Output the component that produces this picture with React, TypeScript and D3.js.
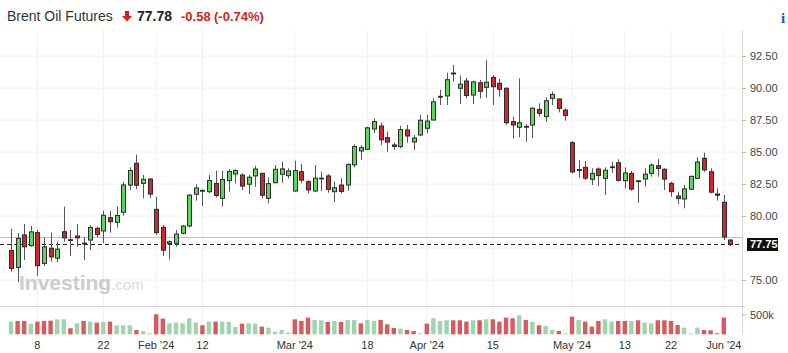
import React, { useEffect, useRef } from 'react';
import * as d3 from 'd3';

// trading days, Jan 2 -> Jun 4 2024
const dates = [
  '2024-01-02', '2024-01-03', '2024-01-04', '2024-01-05',
  '2024-01-08', '2024-01-09', '2024-01-10', '2024-01-11', '2024-01-12',
  '2024-01-15', '2024-01-16', '2024-01-17', '2024-01-18', '2024-01-19',
  '2024-01-22', '2024-01-23', '2024-01-24', '2024-01-25', '2024-01-26',
  '2024-01-29', '2024-01-30', '2024-01-31', '2024-02-01', '2024-02-02',
  '2024-02-05', '2024-02-06', '2024-02-07', '2024-02-08', '2024-02-09',
  '2024-02-12', '2024-02-13', '2024-02-14', '2024-02-15', '2024-02-16',
  '2024-02-19', '2024-02-20', '2024-02-21', '2024-02-22', '2024-02-23',
  '2024-02-26', '2024-02-27', '2024-02-28', '2024-02-29', '2024-03-01',
  '2024-03-04', '2024-03-05', '2024-03-06', '2024-03-07', '2024-03-08',
  '2024-03-11', '2024-03-12', '2024-03-13', '2024-03-14', '2024-03-15',
  '2024-03-18', '2024-03-19', '2024-03-20', '2024-03-21', '2024-03-22',
  '2024-03-25', '2024-03-26', '2024-03-27', '2024-03-28',
  '2024-04-01', '2024-04-02', '2024-04-03', '2024-04-04', '2024-04-05',
  '2024-04-08', '2024-04-09', '2024-04-10', '2024-04-11', '2024-04-12',
  '2024-04-15', '2024-04-16', '2024-04-17', '2024-04-18', '2024-04-19',
  '2024-04-22', '2024-04-23', '2024-04-24', '2024-04-25', '2024-04-26',
  '2024-04-29', '2024-04-30', '2024-05-01', '2024-05-02', '2024-05-03',
  '2024-05-06', '2024-05-07', '2024-05-08', '2024-05-09', '2024-05-10',
  '2024-05-13', '2024-05-14', '2024-05-15', '2024-05-16', '2024-05-17',
  '2024-05-20', '2024-05-21', '2024-05-22', '2024-05-23', '2024-05-24',
  '2024-05-27', '2024-05-28', '2024-05-29', '2024-05-30', '2024-05-31',
  '2024-06-03', '2024-06-04',
];

const open = [
  77.30, 75.99, 78.52, 77.68, 78.70, 76.30, 77.48, 76.70, 78.77, 78.12,
  78.44, 77.82, 78.12, 79.04, 78.83, 79.87, 79.51, 80.29, 82.42, 84.12,
  82.55, 82.89, 80.52, 79.12, 77.85, 77.87, 78.65, 79.22, 81.70, 81.95,
  81.90, 82.55, 81.38, 82.76, 83.28, 83.20, 82.48, 83.13, 83.33, 81.38,
  82.60, 83.26, 83.15, 81.95, 83.46, 82.68, 81.95, 82.90, 83.13, 81.90,
  82.42, 82.42, 84.00, 85.08, 85.21, 86.80, 87.03, 86.12, 85.55, 85.42,
  86.72, 85.78, 86.33, 86.85, 87.50, 89.30, 89.38, 91.10, 89.98, 90.55,
  89.45, 90.41, 90.05, 90.83, 90.37, 89.98, 87.37, 86.93, 87.00, 87.11,
  88.33, 87.76, 89.19, 89.14, 88.28, 85.73, 83.60, 83.80, 82.87, 83.67,
  82.94, 83.80, 84.16, 82.76, 83.33, 82.70, 82.89, 83.33, 83.93, 83.65,
  82.55, 81.56, 81.33, 82.09, 82.94, 84.51, 83.46, 81.72, 81.07, 78.12,
];
const high = [
  79.00, 78.65, 79.38, 79.22, 78.91, 78.34, 78.70, 78.00, 80.73, 78.90,
  79.38, 78.38, 79.30, 79.17, 80.42, 80.39, 80.73, 82.68, 83.80, 84.80,
  83.20, 82.95, 81.51, 79.30, 78.10, 78.90, 79.30, 81.70, 82.48, 82.09,
  83.20, 83.52, 83.54, 83.65, 83.65, 83.33, 83.20, 83.93, 83.38, 83.02,
  83.98, 84.24, 83.73, 84.32, 84.06, 82.81, 83.98, 83.46, 83.28, 82.68,
  82.94, 84.12, 85.60, 85.55, 86.98, 87.63, 87.29, 86.59, 85.73, 87.03,
  87.11, 86.33, 87.89, 87.89, 89.19, 89.86, 91.20, 91.80, 90.96, 90.80,
  90.57, 90.63, 92.18, 91.02, 90.70, 90.05, 87.76, 90.75, 87.19, 88.49,
  88.80, 89.27, 89.71, 89.19, 88.41, 85.86, 84.37, 84.30, 83.73, 83.80,
  83.80, 84.24, 84.43, 83.80, 83.52, 82.81, 83.73, 84.12, 84.45, 83.73,
  82.68, 81.90, 82.42, 83.15, 84.58, 84.95, 83.73, 82.16, 81.64, 78.20,
];
const low = [
  75.65, 74.82, 76.56, 77.60, 75.31, 76.09, 76.43, 76.40, 77.99, 76.88,
  77.60, 76.56, 77.34, 78.34, 77.87, 78.70, 79.09, 80.02, 82.03, 82.09,
  81.38, 81.38, 78.52, 76.88, 76.60, 77.60, 78.55, 79.10, 81.20, 80.78,
  81.77, 81.46, 80.73, 81.90, 82.55, 82.03, 81.70, 82.29, 81.38, 80.99,
  82.55, 82.60, 82.94, 81.90, 82.55, 81.77, 81.90, 81.95, 81.82, 81.07,
  81.77, 81.98, 83.80, 84.37, 85.16, 86.46, 85.55, 85.02, 85.16, 85.29,
  85.73, 85.16, 86.25, 86.46, 87.45, 88.67, 88.67, 90.49, 88.75, 89.19,
  88.75, 89.19, 89.24, 88.67, 89.32, 87.11, 86.07, 86.15, 85.80, 86.07,
  87.76, 87.37, 88.67, 88.10, 87.45, 83.34, 82.99, 82.81, 82.42, 82.34,
  81.64, 83.38, 82.68, 82.16, 81.98, 81.04, 82.29, 83.07, 83.07, 82.03,
  81.51, 80.94, 80.60, 82.03, 82.89, 83.46, 81.77, 81.20, 78.12, 77.65,
];
const close = [
  75.89, 78.25, 77.59, 78.76, 76.12, 77.59, 76.80, 77.41, 78.29, 78.15,
  78.29, 77.88, 79.10, 78.56, 80.06, 79.55, 80.04, 82.43, 83.55, 82.40,
  82.87, 81.71, 78.70, 77.33, 77.99, 78.59, 79.21, 81.63, 82.19, 82.00,
  82.77, 81.60, 82.86, 83.47, 83.56, 82.34, 83.03, 83.67, 81.62, 82.53,
  83.65, 83.68, 83.52, 83.55, 82.80, 82.04, 82.96, 82.96, 82.08, 82.21,
  81.92, 84.03, 85.42, 85.34, 86.89, 87.38, 85.95, 85.78, 85.43, 86.75,
  86.25, 86.09, 87.48, 87.42, 88.92, 89.35, 90.65, 91.17, 90.30, 89.42,
  90.48, 89.74, 90.45, 90.10, 89.90, 87.29, 87.11, 87.29, 87.00, 88.42,
  88.02, 89.01, 89.50, 88.40, 87.86, 83.44, 83.62, 82.96, 83.33, 83.16,
  83.58, 83.84, 82.79, 83.36, 82.10, 82.75, 83.27, 83.98, 83.71, 82.88,
  81.90, 81.36, 82.12, 83.10, 84.22, 83.60, 81.86, 81.62, 78.36, 77.78,
];

// volume in thousands of contracts
const volume = [
  328, 346, 346, 276, 328, 346, 354, 389, 389, 156,
  285, 346, 328, 302, 320, 328, 233, 233, 233, 112,
  86, 26, 518, 406, 285, 302, 285, 415, 302, 233,
  328, 328, 328, 320, 190, 276, 285, 276, 199, 173,
  69, 112, 43, 389, 346, 432, 372, 363, 320, 346,
  320, 372, 372, 285, 372, 346, 372, 259, 164, 147,
  112, 86, 26, 276, 415, 346, 363, 363, 363, 328,
  363, 363, 389, 389, 328, 432, 415, 492, 372, 320,
  233, 216, 112, 86, 26, 458, 372, 328, 199, 346,
  389, 328, 346, 346, 346, 363, 302, 285, 363, 363,
  346, 242, 173, 26, 173, 112, 104, 26, 432, 0,
];
// G = green bar, R = red bar
const volumeDir =
  'GRRGRRRGGR' + 'GRGRGRGGGR' + 'GGRRGGGGGR' + 'GRGGGRGGRG' + 'GGGRRRGGRG' +
  'RGGRGGRRRG' + 'RRGRGGGRRR' + 'GRGRRRRGRG' + 'RGGRGRGRRR' + 'GGRRGRGGRR' +
  'RRGGGRRRRR';

// 77.50 sits under the last price badge, so it only gets a grid line
const gridTicks = [75, 77.5, 80, 82.5, 85, 87.5, 90, 92.5];
const labelTicks = [75, 80, 82.5, 85, 87.5, 90, 92.5];
const tickDates = [
  '2024-01-08', '2024-01-22', '2024-02-01', '2024-02-12', '2024-03-01', '2024-03-18',
  '2024-04-01', '2024-04-15', '2024-05-01', '2024-05-13', '2024-05-22', '2024-06-03',
];
const tickLabels = ['8', '22', "Feb '24", '12', "Mar '24", '18', "Apr '24", '15', "May '24", '13', '22', "Jun '24"];

const lastPrice = 77.78;
const lastLabel = '77.75';
const prevClose = 78.36;

const W = 788;
const H = 353;
const right = 742;
const axisFont = '"Liberation Sans", Arial, sans-serif';

const App = () => {
  const svgRef = useRef(null);

  useEffect(() => {
    const svg = d3.select(svgRef.current);
    svg.selectAll('*').remove();

    const x = d3.scaleBand().domain(dates).range([7.7, 733.7]).padding(0);
    const cx = (d) => x(d) + x.bandwidth() / 2;
    const y = d3.scaleLinear().domain([75, 92.5]).range([280, 56]);
    const yVol = d3.scaleLinear().domain([0, 500]).range([334.3, 315]);

    // vertical grid
    svg.append('g')
      .selectAll('line')
      .data(tickDates)
      .join('line')
      .attr('x1', (d) => cx(d)).attr('x2', (d) => cx(d))
      .attr('y1', 30).attr('y2', 334)
      .attr('stroke', '#f0f0f0');

    // horizontal grid
    svg.append('g')
      .selectAll('line')
      .data(gridTicks)
      .join('line')
      .attr('x1', 0).attr('x2', right)
      .attr('y1', (d) => y(d)).attr('y2', (d) => y(d))
      .attr('stroke', '#f0f0f0');

    // watermark
    const wm = svg.append('text')
      .attr('x', 19).attr('y', 290)
      .style('font-family', axisFont);
    wm.append('tspan').text('Investing')
      .attr('font-size', 21).attr('font-weight', 'bold').attr('fill', '#cbcbcb');
    wm.append('tspan').text('.com')
      .attr('font-size', 15).attr('fill', '#d9d9d9');

    // separator and right axis line
    svg.append('line').attr('x1', 0).attr('x2', right + 3).attr('y1', 306.5).attr('y2', 306.5).attr('stroke', '#d6d6d6');
    svg.append('line').attr('x1', right + 0.5).attr('x2', right + 0.5).attr('y1', 30).attr('y2', 334).attr('stroke', '#d6d6d6');

    // previous close and last price lines
    svg.append('line')
      .attr('x1', 0).attr('x2', right)
      .attr('y1', Math.round(y(prevClose)) + 0.5).attr('y2', Math.round(y(prevClose)) + 0.5)
      .attr('stroke', '#f0aca4');
    svg.append('line')
      .attr('x1', 0).attr('x2', right)
      .attr('y1', Math.round(y(lastPrice)) + 0.5).attr('y2', Math.round(y(lastPrice)) + 0.5)
      .attr('stroke', '#222').attr('stroke-dasharray', '4,3');

    // volume bars
    svg.append('g')
      .selectAll('rect')
      .data(dates)
      .join('rect')
      .attr('x', (d) => cx(d) - 2.2)
      .attr('width', 4.4)
      .attr('y', (d, i) => yVol(volume[i]))
      .attr('height', (d, i) => yVol(0) - yVol(volume[i]))
      .attr('fill', (d, i) => (volumeDir[i] === 'G' ? '#9fd5ae' : '#d65a5f'));

    // candles
    const candles = svg.append('g')
      .selectAll('g')
      .data(dates)
      .join('g');
    candles.append('line')
      .attr('x1', (d) => Math.round(cx(d)) + 0.5).attr('x2', (d) => Math.round(cx(d)) + 0.5)
      .attr('y1', (d, i) => y(high[i]))
      .attr('y2', (d, i) => y(low[i]))
      .attr('stroke', '#555');
    candles.append('rect')
      .attr('x', (d) => Math.round(cx(d)) - 1.5)
      .attr('width', 4)
      .attr('y', (d, i) => y(Math.max(open[i], close[i])))
      .attr('height', (d, i) => Math.max(0.8, Math.abs(y(open[i]) - y(close[i]))))
      .attr('fill', (d, i) => (close[i] >= open[i] ? '#5cd65c' : '#d1262b'))
      .attr('stroke', '#2b2b2b')
      .attr('stroke-width', 1);

    // right price axis
    const yAxis = d3.axisRight(y)
      .tickValues(labelTicks)
      .tickFormat(d3.format('.2f'))
      .tickSize(4)
      .tickPadding(4);
    const ya = svg.append('g')
      .attr('transform', `translate(${right}, 0)`)
      .call(yAxis);
    ya.select('.domain').remove();
    ya.selectAll('line').attr('stroke', '#bbb');
    ya.selectAll('text')
      .attr('fill', '#444')
      .style('font-family', axisFont)
      .style('font-size', '11px');

    // volume axis label
    svg.append('line').attr('x1', right).attr('x2', right + 4).attr('y1', yVol(500)).attr('y2', yVol(500)).attr('stroke', '#bbb');
    svg.append('text')
      .attr('x', right + 8).attr('y', yVol(500)).attr('dy', '0.32em')
      .attr('fill', '#444')
      .style('font-family', axisFont).style('font-size', '11px')
      .text('500k');

    // last price badge
    const ly = Math.round(y(lastPrice)) + 0.5;
    svg.append('rect')
      .attr('x', right + 5).attr('y', ly - 6.5)
      .attr('width', 31).attr('height', 13)
      .attr('fill', '#111');
    svg.append('text')
      .attr('x', right + 8).attr('y', ly).attr('dy', '0.35em')
      .attr('fill', '#fff').attr('font-weight', 'bold')
      .style('font-family', axisFont).style('font-size', '11px')
      .text(lastLabel);

    // time axis
    const xAxis = d3.axisBottom(x)
      .tickValues(tickDates)
      .tickFormat((d) => tickLabels[tickDates.indexOf(d)])
      .tickSize(0)
      .tickPadding(7);
    const xa = svg.append('g')
      .attr('transform', 'translate(0, 334)')
      .call(xAxis);
    xa.select('.domain').remove();
    xa.selectAll('text')
      .attr('fill', '#333')
      .style('font-family', axisFont)
      .style('font-size', '11px');

    // header
    svg.append('text')
      .attr('x', 7).attr('y', 21)
      .attr('fill', '#333')
      .style('font-family', axisFont).style('font-size', '14px')
      .text('Brent Oil Futures');
    svg.append('path')
      .attr('d', 'M125,11 h4 v5 h3 l-5,5.5 l-5,-5.5 h3 z')
      .attr('fill', '#d91e18');
    svg.append('text')
      .attr('x', 137).attr('y', 21)
      .attr('fill', '#222').attr('font-weight', 'bold')
      .style('font-family', axisFont).style('font-size', '14px')
      .text(lastPrice.toFixed(2));
    svg.append('text')
      .attr('x', 181).attr('y', 21)
      .attr('fill', '#d91e18').attr('font-weight', 'bold')
      .style('font-family', axisFont).style('font-size', '13px')
      .text('-0.58');
    svg.append('text')
      .attr('x', 214).attr('y', 21)
      .attr('fill', '#d91e18').attr('font-weight', 'bold')
      .style('font-family', axisFont).style('font-size', '13px')
      .text('(-0.74%)');
    svg.append('text')
      .attr('x', 781).attr('y', 23)
      .attr('fill', '#1a5ea8').attr('font-weight', 'bold')
      .style('font-family', 'Georgia, serif').style('font-size', '15px')
      .text('i');
  }, []);

  return (
    <svg
      ref={svgRef}
      width={W}
      height={H}
      style={{ position: 'absolute', left: 0, top: 0, background: '#fff' }}
    />
  );
};

export default App;
